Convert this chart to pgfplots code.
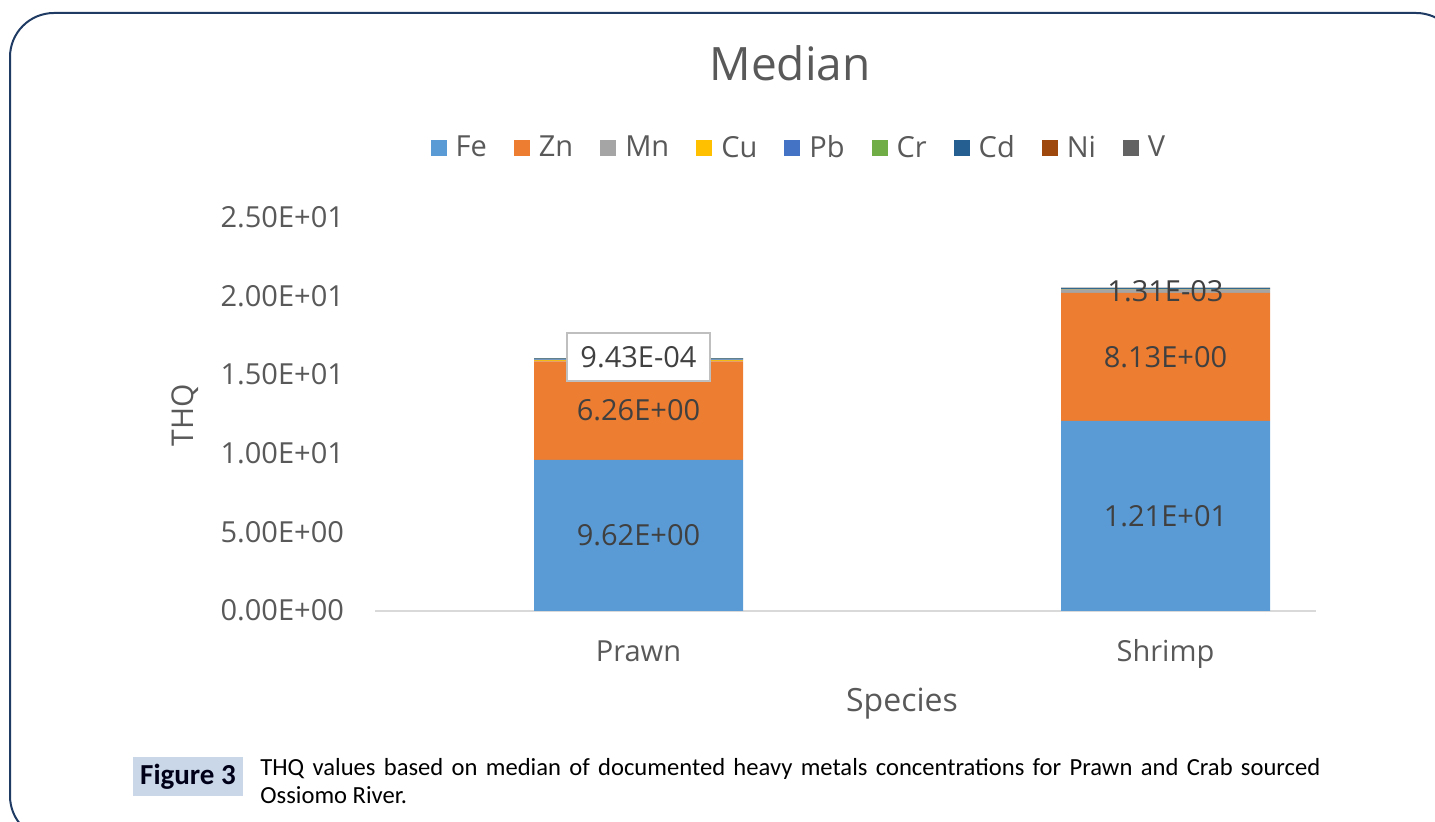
\documentclass[border=0pt]{standalone}
\usepackage{pgfplots}
\pgfplotsset{compat=1.18}
\usepackage{fontspec}
\setmainfont{Open Sans}
\newfontfamily\capfont{Carlito}

\definecolor{cFe}{HTML}{5B9BD5}
\definecolor{cZn}{HTML}{ED7D31}
\definecolor{cMn}{HTML}{A5A5A5}
\definecolor{cCu}{HTML}{FFC000}
\definecolor{cPb}{HTML}{4472C4}
\definecolor{cCr}{HTML}{70AD47}
\definecolor{cCd}{HTML}{255E91}
\definecolor{cNi}{HTML}{9E480E}
\definecolor{cV}{HTML}{636363}
\definecolor{txtgray}{HTML}{595959}
\definecolor{lblgray}{HTML}{404040}
\definecolor{framecol}{HTML}{1F3B63}
\definecolor{figbox}{HTML}{C9D7E8}

\tikzset{dlabel/.style={text=lblgray, font=\fontsize{14.5}{17}\selectfont}}

\begin{document}
\begin{tikzpicture}
\useasboundingbox (0,0) rectangle (717.5pt,411pt);
\begin{scope}
\clip (0,0) rectangle (717.5pt,411pt);
\draw[framecol, line width=1pt, rounded corners=22pt] (5pt,404.5pt) rectangle (730pt,-9pt);
\end{scope}

% title and axis titles
\node[text=txtgray, font=\fontsize{23}{27}\selectfont] at (395pt,379.5pt) {Median};
\node[text=txtgray, font=\fontsize{16}{19}\selectfont] at (451pt,59pt) {Species};
\node[text=txtgray, font=\fontsize{15}{18}\selectfont, rotate=90] at (92.5pt,203.5pt) {THQ};

% caption
\fill[figbox] (66.5pt,13pt) rectangle (121.5pt,32.5pt);
\node[font=\capfont\bfseries\fontsize{14.5}{16}\selectfont, text=black!90!blue] at (94pt,22.5pt) {Figure 3};
\node[anchor=north west, inner sep=0pt, text width=530pt, align=justify,
      font=\capfont\fontsize{12.3}{14}\selectfont] at (130pt,32pt)
  {THQ values based on median of documented heavy metals concentrations for Prawn and Crab sourced\linebreak Ossiomo River.};

\begin{axis}[
    scale only axis,
    width=470.5pt, height=196.5pt,
    at={(187.5pt,105.5pt)}, anchor=south west,
    ybar stacked,
    bar width=104.5pt,
    xmin=-0.5, xmax=1.2856,
    ymin=0, ymax=25,
    xtick={0,1},
    xticklabels={Prawn, Shrimp},
    ytick={0,5,10,15,20,25},
    yticklabels={0.00E+00,5.00E+00,1.00E+01,1.50E+01,2.00E+01,2.50E+01},
    axis x line*=bottom,
    axis y line*=left,
    y axis line style={draw=none},
    x axis line style={draw=black!15, line width=1pt, -},
    major tick length=0pt,
    tick label style={text=txtgray, font=\fontsize{14.5}{17}\selectfont},
    typeset ticklabels with strut,
    xticklabel style={yshift=-10pt},
    yticklabel style={xshift=-12pt, yshift=-1.5pt},
    /pgf/number format/assume math mode=true,
    legend columns=-1,
    legend style={draw=none, at={(0.4516,1.178)}, anchor=center,
        font=\fontsize{14.5}{17}\selectfont, text=txtgray,
        /tikz/every odd column/.append style={column sep=2.5pt},
        /tikz/every even column/.append style={column sep=11.5pt}},
    legend image code/.code={\fill[#1] (0pt,-4pt) rectangle (8pt,4pt);},
    clip=false,
]
\addplot+[fill=cFe, draw=none] coordinates {(0,9.62) (1,12.1)};
\addplot+[fill=cZn, draw=none] coordinates {(0,6.26) (1,8.13)};
\addplot+[fill=cMn, draw=none] coordinates {(0,0.03) (1,0.20)};
\addplot+[fill=cCu, draw=none] coordinates {(0,0.05) (1,0.01)};
\addplot+[fill=cPb, draw=none] coordinates {(0,0.04) (1,0.05)};
\addplot+[fill=cCr, draw=none] coordinates {(0,0.03) (1,0.005)};
\addplot+[fill=cCd, draw=none] coordinates {(0,0.04) (1,0.06)};
\addplot+[fill=cNi, draw=none] coordinates {(0,0.02) (1,0.005)};
\addplot+[fill=cV, draw=none] coordinates {(0,0.000943) (1,0.00131)};
\legend{Fe, Zn, Mn, Cu, Pb, Cr, Cd, Ni, V}

\coordinate (l1) at (axis cs:0,4.81);
\coordinate (l2) at (axis cs:0,12.75);
\coordinate (l3) at (axis cs:0,16.16);
\coordinate (l4) at (axis cs:1,6.05);
\coordinate (l5) at (axis cs:1,16.17);
\coordinate (l6) at (axis cs:1,20.36);
\end{axis}

% data labels, drawn above the bars
\node[dlabel] at (l1) {9.62E+00};
\node[dlabel] at (l2) {6.26E+00};
\node[dlabel, draw=black!25, line width=1.2pt, fill=white, minimum width=71.5pt, minimum height=24pt] at (l3) {9.43E-04};
\node[dlabel] at (l4) {1.21E+01};
\node[dlabel] at (l5) {8.13E+00};
\node[dlabel] at (l6) {1.31E-03};
\end{tikzpicture}
\end{document}
